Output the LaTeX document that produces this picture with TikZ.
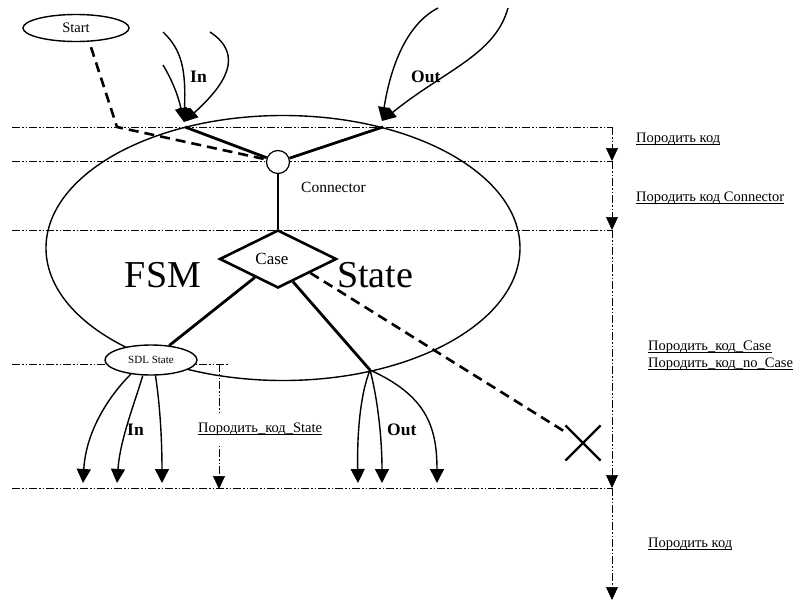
\documentclass[tikz,border=0pt]{standalone}
\usepackage{fontspec}
\setmainfont{Liberation Serif}
\usetikzlibrary{arrows.meta,shapes.geometric,shapes.misc,calc}
\begin{document}
\begin{tikzpicture}[x=1pt,y=-1pt,
  dd/.style={line width=0.7pt, dash pattern=on 8pt off 2pt on 1.5pt off 2pt on 1.5pt off 2pt},
  varr/.style={-{Triangle[length=13pt,width=12pt]}},
  thk/.style={line width=2.8pt},
  thkdash/.style={line width=2.6pt, dash pattern=on 10pt off 6pt},
  tarr/.style={line width=1.4pt, -{Triangle[length=14pt,width=12pt]}},
  barr/.style={line width=1.4pt, -{Triangle[length=14pt,width=14pt]}},
  uln/.style={line width=0.9pt},
  lbl/.style={font=\fontsize{14.5}{16}\selectfont, inner sep=0pt, anchor=base west},
  bl/.style={font=\fontsize{17.5}{19}\selectfont\bfseries, inner sep=0pt, anchor=base west}]
\useasboundingbox (0,0) rectangle (793,603);
% coordinates
\coordinate (hA) at (12,127); \coordinate (vA) at (612,127);
\coordinate (hB) at (12,161); \coordinate (vB) at (612,161);
\coordinate (hC) at (12,230); \coordinate (vC) at (612,230);
\coordinate (hD) at (12,488); \coordinate (vD) at (612,488);
\coordinate (vE) at (612,600);
\coordinate (hS) at (12,364); \coordinate (hSr) at (228,364);
\coordinate (sv0) at (219,364); \coordinate (sv1) at (219,489);
% dash-dot guides
\draw[dd] (hA) -- (vA);
\draw[dd] (hB) -- (vB);
\draw[dd] (hC) -- (vC);
\draw[dd] (hD) -- (vD);
\draw[dd] (hS) -- (hSr);
\draw[dd,varr] (vA) -- (vB);
\draw[dd,varr] (vB) -- (vC);
\draw[dd,varr] (vC) -- (vD);
\draw[dd,varr] (vD) -- (vE);
\draw[dd,varr] (sv0) -- (sv1);
% big ellipse
\node[draw, ellipse, line width=1.4pt, minimum width=474pt, minimum height=265pt, inner sep=0pt] (fsm) at (283,248) {};
\node[font=\fontsize{38}{40}\selectfont, anchor=base, inner sep=0pt] (fsmt) at (163,287) {FSM};
\node[font=\fontsize{38}{40}\selectfont, anchor=base, inner sep=0pt] (statet) at (375,287) {State};
% nodes
\node[ellipse, draw, line width=1.4pt, minimum width=106pt, minimum height=27pt, inner sep=0pt, font=\fontsize{14.5}{16}\selectfont] (start) at (76,28) {Start};
\node[circle, draw, fill=white, line width=1.2pt, minimum size=23pt, inner sep=0pt] (conn) at (278,162) {};
\node[font=\fontsize{15.5}{17}\selectfont, anchor=base west, inner sep=0pt] (connt) at (301,192) {Connector};
\node[diamond, draw, fill=white, line width=2.6pt, minimum width=117pt, minimum height=58pt, inner sep=0pt] (case) at (278,259) {};
\node[font=\fontsize{17}{18}\selectfont, inner sep=0pt] (caset) at (272,259) {Case};
\node[ellipse, draw, fill=white, line width=1.4pt, minimum width=92pt, minimum height=30pt, inner sep=0pt, font=\fontsize{11}{12}\selectfont] (sdl) at (151,360) {SDL State};
\node[cross out, draw, line width=2.2pt, minimum size=33pt, inner sep=0pt] (xm) at (583,443) {};
% labels
\node[lbl] (l1) at (636,142) {Породить код};
\node[lbl] (l2) at (636,201) {Породить код Connector};
\node[lbl] (l3) at (648,350) {Породить\_код\_Case};
\node[lbl] (l4) at (648,367) {Породить\_код\_no\_Case};
\node[lbl] (l5) at (648,547) {Породить код};
\node[lbl, fill=white, inner ysep=9pt] (l6) at (198,432) {Породить\_код\_State};
\foreach \n in {l1,l2,l3,l4,l5,l6}
  \draw[uln] ([yshift=-2pt]\n.base west) -- ([yshift=-2pt]\n.base east);
\node[bl] (in1) at (190,82) {In};
\node[bl] (out1) at (411,82) {Out};
\node[bl] (in2) at (127,435) {In};
\node[bl] (out2) at (387,435) {Out};
% connector points
\coordinate (inpt) at (185,127);
\coordinate (outpt) at (383,127);
\coordinate (junc) at (370,370);
\coordinate (bend) at (117,127);
\draw[thk] (inpt) -- (conn);
\draw[thk] (outpt) -- (conn);
\draw[thk] (conn) -- (case);
\draw[thk] (case) -- (sdl);
\draw[thk] ($(case.south)!0.25!(case.east)$) -- (junc);
\draw[thkdash] ($(case.south)!0.54!(case.east)$) -- (xm);
\draw[thkdash] ([xshift=15pt,yshift=-5pt]start.south) -- (bend) -- (conn);
% top In arrows
\coordinate (inhd) at (184,122);
\coordinate (ina) at (163,65);
\coordinate (inb) at (163,32);
\coordinate (inc) at (210,32);
\draw[tarr] (ina) .. controls (172,80) and (178,95) .. (inhd);
\draw[tarr] (inb) .. controls (182,50) and (186,70) .. (inhd);
\draw[tarr] (inc) .. controls (245,55) and (225,85) .. (inhd);
% top Out arrows
\coordinate (outhd) at (382,121);
\coordinate (outa) at (438,8);
\coordinate (outb) at (508,8);
\draw[tarr] (outa) .. controls (405,25) and (390,70) .. (outhd);
\draw[tarr] (outb) .. controls (495,55) and (445,70) .. (outhd);
% bottom In arrows
\coordinate (b1) at (83,483);
\coordinate (b2) at (117,483);
\coordinate (b3) at (162,483);
\draw[barr] (sdl.215) .. controls (110,395) and (86,430) .. (b1);
\draw[barr] (sdl.242) .. controls (134,405) and (120,440) .. (b2);
\draw[barr] (sdl.286) .. controls (160,405) and (162,440) .. (b3);
% bottom Out arrows
\coordinate (c1) at (358,483);
\coordinate (c2) at (382,483);
\coordinate (c3) at (437,483);
\draw[barr] (junc) .. controls (360,395) and (357,435) .. (c1);
\draw[barr] (junc) .. controls (378,400) and (382,440) .. (c2);
\draw[barr] (junc) .. controls (425,395) and (437,425) .. (c3);
\end{tikzpicture}
\end{document}
